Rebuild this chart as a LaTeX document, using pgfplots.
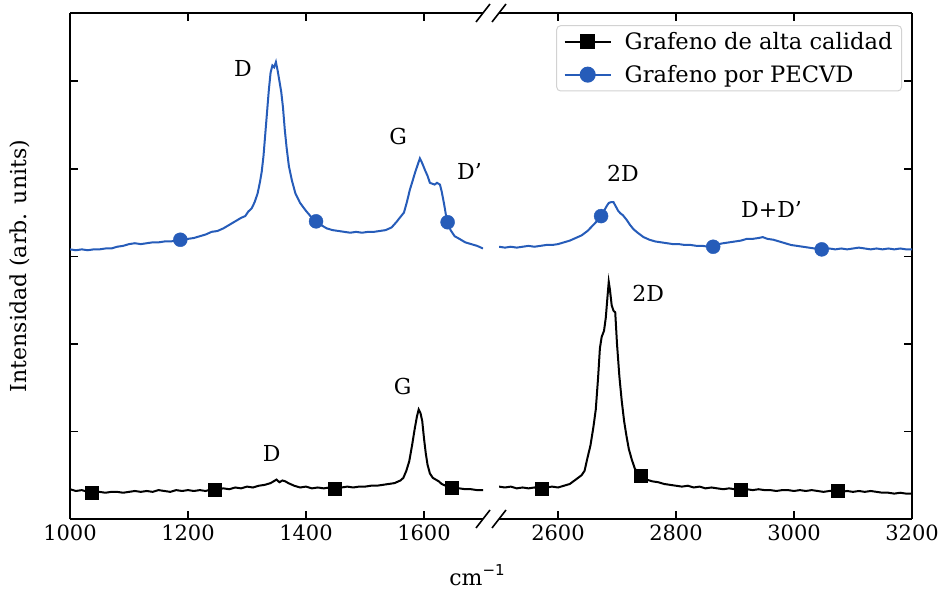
\documentclass[border=0pt]{standalone}
\usepackage{fontspec}
\setmainfont{DejaVu Serif}
\newfontfamily\dvsans{DejaVu Sans}
\usepackage{pgfplots}
\pgfplotsset{compat=1.18}
\definecolor{cblue}{RGB}{38,92,185}
\definecolor{lgray}{RGB}{210,210,210}

\pgfplotstableread{
w u
1000 0.34
1010 0.32
1020 0.33
1030 0.31
1040 0.30
1050 0.31
1060 0.30
1070 0.31
1080 0.31
1090 0.30
1100 0.31
1110 0.32
1120 0.31
1130 0.32
1140 0.31
1150 0.33
1160 0.32
1170 0.31
1180 0.33
1190 0.32
1200 0.33
1210 0.32
1220 0.33
1230 0.32
1240 0.34
1250 0.34
1260 0.35
1270 0.34
1280 0.36
1290 0.35
1300 0.37
1310 0.36
1320 0.38
1330 0.39
1340 0.41
1345 0.43
1350 0.45
1355 0.42
1360 0.44
1365 0.43
1370 0.41
1380 0.38
1390 0.36
1400 0.37
1410 0.35
1420 0.36
1430 0.35
1440 0.36
1450 0.35
1460 0.36
1470 0.37
1480 0.36
1490 0.37
1500 0.37
1510 0.38
1520 0.38
1530 0.39
1540 0.40
1550 0.41
1560 0.44
1565 0.47
1570 0.55
1575 0.66
1580 0.85
1584 1.02
1588 1.17
1591 1.25
1594 1.21
1597 1.12
1600 0.92
1603 0.75
1606 0.62
1610 0.52
1615 0.47
1620 0.45
1625 0.43
1630 0.40
1640 0.37
1650 0.36
1660 0.35
1670 0.34
1680 0.34
1690 0.33
1700 0.33
}\blackL

\pgfplotstableread{
w u
2500 0.37
2510 0.36
2520 0.37
2530 0.35
2540 0.36
2550 0.35
2560 0.36
2570 0.35
2580 0.36
2590 0.37
2600 0.36
2610 0.38
2620 0.40
2630 0.45
2640 0.50
2645 0.55
2650 0.70
2655 0.84
2660 1.05
2664 1.25
2668 1.62
2671 1.95
2674 2.08
2678 2.15
2681 2.30
2684 2.55
2686 2.71
2688 2.62
2691 2.44
2694 2.38
2697 2.36
2700 2.00
2704 1.63
2708 1.35
2712 1.12
2716 0.95
2720 0.80
2725 0.68
2730 0.58
2735 0.52
2741 0.49
2750 0.45
2760 0.43
2770 0.42
2780 0.40
2790 0.39
2800 0.38
2810 0.37
2820 0.38
2830 0.36
2840 0.37
2850 0.35
2860 0.36
2870 0.35
2880 0.34
2890 0.35
2900 0.34
2910 0.33
2920 0.34
2930 0.33
2940 0.34
2950 0.33
2960 0.33
2970 0.32
2980 0.33
2990 0.33
3000 0.32
3010 0.33
3020 0.32
3030 0.33
3040 0.32
3050 0.31
3060 0.32
3070 0.32
3080 0.31
3090 0.32
3100 0.31
3110 0.32
3120 0.31
3130 0.32
3140 0.31
3150 0.30
3160 0.30
3170 0.29
3180 0.30
3190 0.29
3200 0.29
}\blackR

\pgfplotstableread{
w u
1000 3.08
1010 3.07
1020 3.08
1030 3.07
1040 3.08
1050 3.08
1060 3.09
1070 3.09
1080 3.11
1090 3.12
1100 3.14
1110 3.15
1120 3.14
1130 3.15
1140 3.16
1150 3.16
1160 3.17
1170 3.17
1180 3.18
1187 3.19
1200 3.20
1210 3.21
1220 3.23
1230 3.25
1240 3.28
1250 3.29
1260 3.32
1270 3.36
1280 3.40
1290 3.44
1297 3.46
1302 3.51
1308 3.55
1313 3.62
1318 3.72
1322 3.85
1325 3.97
1328 4.15
1331 4.40
1334 4.65
1337 4.90
1340 5.10
1343 5.18
1346 5.16
1349 5.22
1352 5.12
1355 5.00
1358 4.88
1361 4.70
1364 4.45
1367 4.25
1371 4.03
1376 3.87
1382 3.72
1390 3.61
1400 3.52
1410 3.44
1417 3.40
1425 3.36
1435 3.32
1445 3.30
1455 3.29
1465 3.28
1475 3.27
1485 3.28
1495 3.27
1505 3.28
1515 3.28
1525 3.29
1535 3.30
1545 3.33
1553 3.39
1560 3.45
1566 3.50
1571 3.62
1576 3.76
1581 3.87
1585 3.96
1589 4.04
1593 4.12
1596 4.08
1599 4.03
1602 3.98
1606 3.92
1610 3.84
1614 3.83
1618 3.82
1622 3.84
1627 3.82
1630 3.74
1634 3.60
1637 3.48
1640 3.39
1645 3.30
1652 3.23
1660 3.20
1670 3.16
1680 3.14
1690 3.12
1700 3.09
}\blueL

\pgfplotstableread{
w u
2500 3.11
2510 3.10
2520 3.11
2530 3.10
2540 3.11
2550 3.12
2560 3.11
2570 3.12
2580 3.13
2590 3.13
2600 3.14
2610 3.16
2620 3.18
2630 3.21
2640 3.24
2650 3.29
2660 3.36
2667 3.41
2673 3.46
2678 3.52
2683 3.58
2686 3.61
2690 3.62
2694 3.62
2698 3.57
2702 3.52
2706 3.49
2710 3.47
2716 3.42
2722 3.36
2728 3.31
2735 3.27
2745 3.22
2755 3.19
2765 3.17
2775 3.16
2785 3.15
2795 3.14
2805 3.14
2815 3.13
2825 3.13
2835 3.12
2845 3.12
2855 3.11
2863 3.11
2872 3.14
2880 3.15
2890 3.16
2900 3.17
2910 3.18
2920 3.20
2930 3.20
2940 3.21
2947 3.22
2955 3.20
2965 3.19
2975 3.17
2985 3.15
2995 3.13
3005 3.12
3015 3.11
3025 3.10
3035 3.09
3047 3.08
3060 3.09
3070 3.08
3080 3.09
3090 3.08
3100 3.09
3110 3.10
3120 3.09
3130 3.08
3140 3.09
3150 3.08
3160 3.09
3170 3.08
3180 3.09
3190 3.08
3200 3.08
}\blueR

\pgfplotsset{
  brk/.style={
    scale only axis, width=413pt, height=506pt,
    ymin=0, ymax=5.78,
    ytick={1,2,3,4,5}, yticklabels={},
    tick align=inside,
    major tick length=8pt,
    every tick/.style={black, line width=1.6pt},
    axis line style={line width=1.6pt},
    font=\fontsize{22}{26}\selectfont,
    tick label style={font=\fontsize{21}{25}\selectfont},
    /pgf/number format/assume math mode=true,
    /pgf/number format/1000 sep={},
    xticklabel style={yshift=-2pt},
  },
  cline/.style={line width=2pt, no markers},
}

\begin{document}
\begin{tikzpicture}[x=1pt,y=1pt]
\path[use as bounding box] (0,0) rectangle (944,589);

\begin{axis}[brk, name=L, at={(70pt,70pt)}, anchor=south west,
  xmin=1000, xmax=1700, xtick={1000,1200,1400,1600},
  axis x line*=box, axis y line*=left]
\addplot[cline, black] table[x=w,y=u] {\blackL};
\addplot[cline, cblue] table[x=w,y=u] {\blueL};
\addplot[only marks, mark=square*, mark size=6.5pt, black] coordinates {(1037,0.30) (1246,0.34) (1449,0.35) (1647,0.36)};
\addplot[only marks, mark=*, mark size=7pt, cblue] coordinates {(1187,3.19) (1417,3.40) (1640,3.39)};
\node at (axis cs:1293,5.15) {D};
\node at (axis cs:1556,4.37) {G};
\node at (axis cs:1677,3.97) {D’};
\node at (axis cs:1342,0.75) {D};
\node at (axis cs:1564,1.51) {G};
\end{axis}

\begin{axis}[brk, name=R, at={(499pt,70pt)}, anchor=south west,
  xmin=2500, xmax=3200, xtick={2600,2800,3000,3200},
  axis x line*=box, axis y line*=right,
  legend style={at={(axis description cs:0.976,0.976)}, anchor=north east,
    draw=lgray, line width=1pt, rounded corners=4pt, fill=white,
    font=\fontsize{22.6}{26}\selectfont, row sep=10pt, inner xsep=7pt, inner ysep=5pt,
    /tikz/every odd column/.append style={column sep=11pt}},
  legend cell align=left,
  legend image code/.code={\draw[mark repeat=2,mark phase=2] plot coordinates {(0pt,0pt) (23pt,0pt) (46pt,0pt)};}]
\addlegendimage{black, line width=2pt, mark=square*, mark size=6.5pt}
\addlegendentry{Grafeno de alta calidad}
\addlegendimage{cblue, line width=2pt, mark=*, mark size=7pt}
\addlegendentry{Grafeno por PECVD}
\addplot[cline, black, forget plot] table[x=w,y=u] {\blackR};
\addplot[cline, cblue, forget plot] table[x=w,y=u] {\blueR};
\addplot[only marks, mark=square*, mark size=6.5pt, black, forget plot] coordinates {(2572,0.35) (2741,0.49) (2910,0.33) (3074,0.32)};
\addplot[only marks, mark=*, mark size=7pt, cblue, forget plot] coordinates {(2673,3.46) (2863,3.11) (3047,3.08)};
\node at (axis cs:2710,3.95) {2D};
\node at (axis cs:2962,3.53) {D+D’};
\node at (axis cs:2753,2.58) {2D};
\end{axis}

\foreach \p in {L.south east, L.north east, R.south west, R.north west}{
  \draw[line width=1.6pt] ([xshift=-7pt,yshift=-9pt]\p) -- ([xshift=7pt,yshift=9pt]\p);
}

\node[font=\fontsize{22}{26}\selectfont] at (477,14) {cm\raisebox{0.45em}{\dvsans\fontsize{15}{18}\selectfont −1}};
\node[font=\fontsize{22}{26}\selectfont, rotate=90] at (20,323) {Intensidad (arb. units)};
\end{tikzpicture}
\end{document}
